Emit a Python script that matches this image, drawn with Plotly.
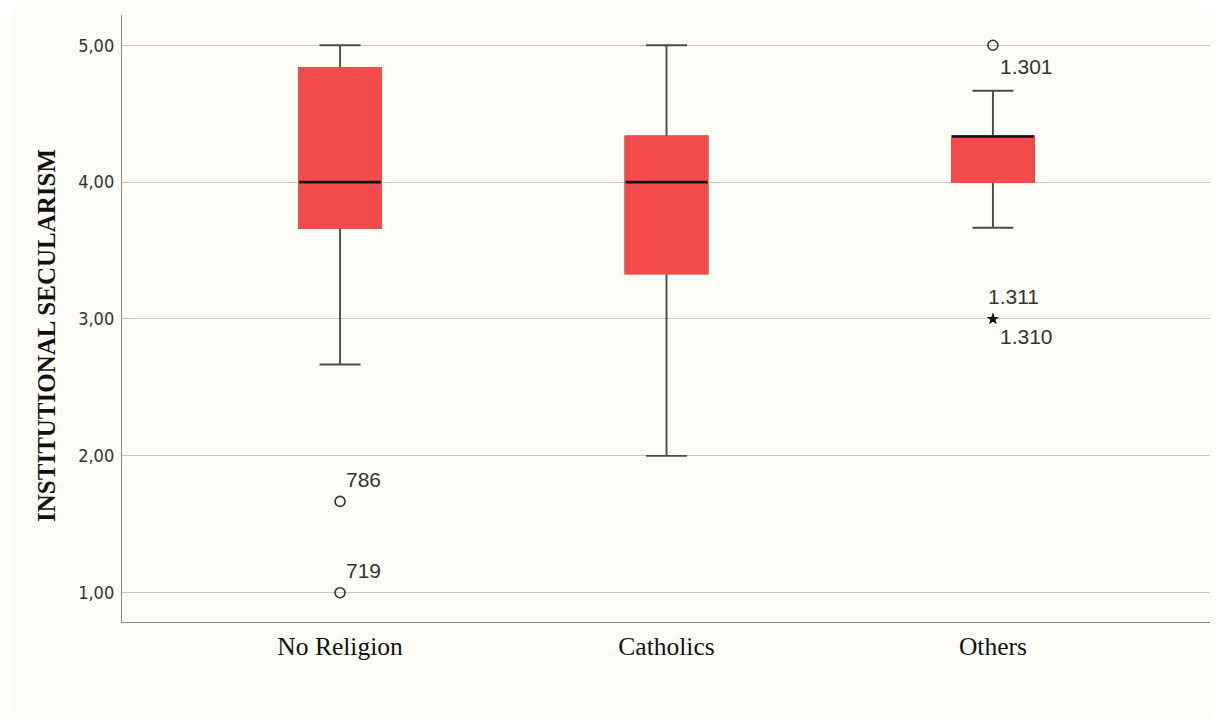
import plotly.graph_objects as go

# Box-plot summary statistics per religious group
categories = ["No Religion", "Catholics", "Others"]
q1 = [3.667, 3.333, 4.000]
median = [4.000, 4.000, 4.333]
q3 = [4.833, 4.333, 4.333]
lower_whisker = [2.667, 2.000, 3.667]
upper_whisker = [5.000, 5.000, 4.667]

# Outliers (circles) and extremes (stars) with their case numbers
outlier_group = [0, 0, 2]
outlier_value = [1.667, 1.000, 5.000]
outlier_case = ["786", "719", "1.301"]

extreme_group = [2, 2]
extreme_value = [3.000, 3.000]
extreme_case = ["1.311", "1.310"]

y_ticks = [1, 2, 3, 4, 5]
y_tick_text = ["1,00", "2,00", "3,00", "4,00", "5,00"]

BG = "#FDFCF6"
RED = "#F34B4B"
WHISKER = "#4A4A4A"
BOX_W = 0.251

xs = list(range(len(categories)))

fig = go.Figure()

# Box with whiskers (grey lines)
fig.add_trace(go.Box(
    x=xs, q1=q1, median=median, q3=q3,
    lowerfence=lower_whisker, upperfence=upper_whisker,
    width=BOX_W, whiskerwidth=0.5,
    fillcolor=RED, line=dict(color=WHISKER, width=1.9),
    boxpoints=False, hoverinfo="skip", showlegend=False,
))
# Same boxes without whiskers, red outline hides the grey border
fig.add_trace(go.Box(
    x=xs, q1=q1, median=q3, q3=q3,
    lowerfence=q1, upperfence=q3,
    width=BOX_W, whiskerwidth=0,
    fillcolor=RED, line=dict(color=RED, width=2),
    boxpoints=False, hoverinfo="skip", showlegend=False,
))
# Black median bars
fig.add_trace(go.Box(
    x=xs, q1=median, median=median, q3=median,
    lowerfence=median, upperfence=median,
    width=BOX_W, whiskerwidth=0,
    fillcolor="rgba(0,0,0,0)", line=dict(color="#111111", width=2.6),
    boxpoints=False, hoverinfo="skip", showlegend=False,
))

# Outliers
fig.add_trace(go.Scatter(
    x=outlier_group, y=outlier_value, mode="markers",
    marker=dict(symbol="circle-open", size=10, color="#333333",
                line=dict(width=1.6, color="#333333")),
    hoverinfo="skip", showlegend=False,
))
# Extremes
fig.add_trace(go.Scatter(
    x=extreme_group, y=extreme_value, mode="markers",
    marker=dict(symbol="star", size=9, color="#111111"),
    hoverinfo="skip", showlegend=False,
))

# Case-number labels next to the outlying points
label_font = dict(family="Liberation Sans, Arial, sans-serif", size=21, color="#333333")
outlier_shifts = [(4, 22), (4, 22), (5, -21)]
for g, v, c, (dx, dy) in zip(outlier_group, outlier_value, outlier_case, outlier_shifts):
    fig.add_annotation(x=g, y=v, text=c, showarrow=False, xanchor="left",
                       yanchor="middle", xshift=dx, yshift=dy, font=label_font)
extreme_shifts = [(-7, 22), (5, -18)]
for g, v, c, (dx, dy) in zip(extreme_group, extreme_value, extreme_case, extreme_shifts):
    fig.add_annotation(x=g, y=v, text=c, showarrow=False, xanchor="left",
                       yanchor="middle", xshift=dx, yshift=dy, font=label_font)

# Axis title
fig.add_annotation(
    text="<b>INSTITUTIONAL SECULARISM</b>", textangle=-90,
    xref="paper", yref="paper", x=-0.0699, y=0.4728,
    xanchor="center", yanchor="middle", showarrow=False,
    font=dict(family="Liberation Serif, Times New Roman, serif", size=25, color="#111111"),
)

# Cream chart panel on white page
fig.add_shape(type="rect", xref="paper", yref="paper",
              x0=-0.1029, x1=1.0028, y0=-0.158, y1=1.0115,
              fillcolor=BG, line=dict(width=0), layer="below")

fig.update_layout(
    width=1218, height=719,
    margin=dict(l=122, r=8, t=15, b=97),
    paper_bgcolor="white", plot_bgcolor=BG,
    boxmode="overlay",
    xaxis=dict(
        range=[-0.668, 2.665], tickmode="array", tickvals=xs, ticktext=categories,
        showgrid=False, zeroline=False, showline=True, linecolor="#8A8A8A", linewidth=1.4,
        ticks="", ticklabelstandoff=1,
        tickfont=dict(family="Liberation Serif, Times New Roman, serif", size=25.5, color="#111111"),
    ),
    yaxis=dict(
        range=[0.786, 5.221], tickmode="array", tickvals=y_ticks, ticktext=y_tick_text,
        showgrid=True, gridcolor="#CAC6BD", gridwidth=1.4, zeroline=False,
        showline=True, linecolor="#8A8A8A", linewidth=1.4, ticks="", ticklabelstandoff=3,
        tickfont=dict(family="Liberation Sans Narrow, DejaVu Sans Condensed, Liberation Sans, sans-serif",
                      size=18, color="#333333"),
    ),
)

fig.write_html("out.html")
